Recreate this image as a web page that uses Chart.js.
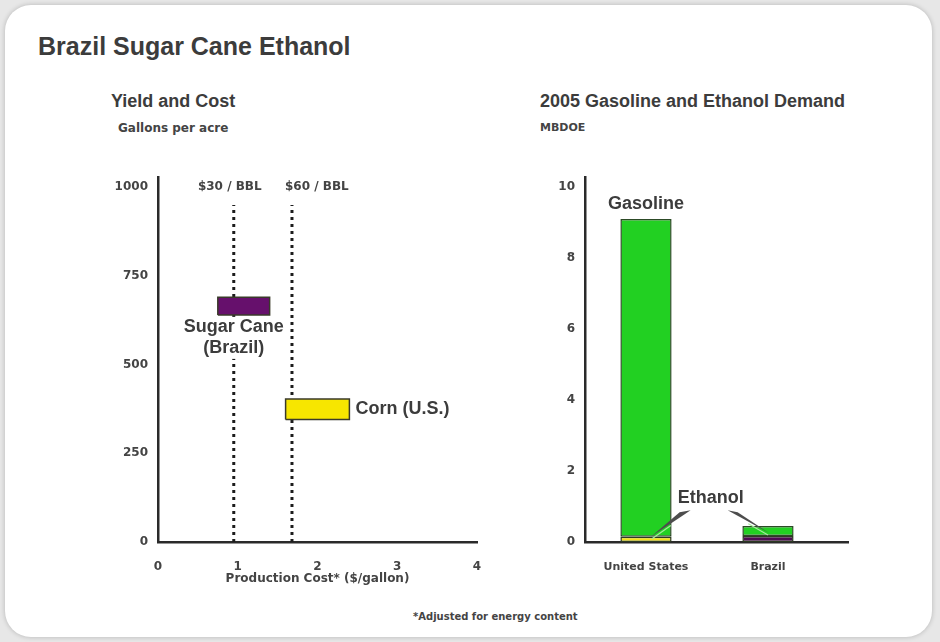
<!DOCTYPE html>
<html>
<head>
<meta charset="utf-8">
<script src="https://cdn.jsdelivr.net/npm/chart.js@4/dist/chart.umd.min.js"></script>
<style>
  html, body { margin: 0; padding: 0; }
  body { width: 940px; height: 642px; background: #e7e7e7; position: relative; overflow: hidden; }
  .card { position: absolute; left: 5px; top: 5px; width: 927px; height: 632px; background: #fff;
          border-radius: 26px; box-shadow: 0 0 5px rgba(0,0,0,0.22); }
  .txt { position: absolute; white-space: nowrap; color: #3c3c3c; font-weight: bold; }
  .big { font-family: "Liberation Sans", Arial, sans-serif; }
  .small { font-family: "DejaVu Sans", Verdana, sans-serif; color: #444; }
  canvas { position: absolute; }
</style>
</head>
<body>
<div class="card"></div>
<div class="txt big" style="left:38px; top:34px; font-size:25px; line-height:25px;">Brazil Sugar Cane Ethanol</div>
<div class="txt big" style="left:111px; top:92px; font-size:18px; line-height:18px;">Yield and Cost</div>
<div class="txt small" style="left:118px; top:122px; font-size:12px; line-height:12px;">Gallons per acre</div>
<div class="txt big" style="left:540px; top:92px; font-size:18px; line-height:18px;">2005 Gasoline and Ethanol Demand</div>
<div class="txt small" style="left:540px; top:122px; font-size:11px; line-height:12px;">MBDOE</div>
<div class="txt small" style="left:413px; top:612px; font-size:10px; line-height:10px;">*Adjusted for energy content</div>

<canvas id="yieldChart" width="400" height="440" style="left:100px; top:160px;"></canvas>
<canvas id="demandChart" width="340" height="440" style="left:530px; top:160px;"></canvas>

<script>
// ---- Yield and cost ----
const crops = ['Sugar Cane', 'Corn (U.S.)'];
const cropSubLabels = ['(Brazil)', ''];
const costLow = [0.75, 1.6];       // $/gallon
const costHigh = [1.4, 2.4];
const yieldLow = [640, 345];       // gallons per acre
const yieldHigh = [690, 403];
const cropColors = ['#66106c', '#f7e600'];
const yieldTicks = [0, 250, 500, 750, 1000];
const costTicks = [0, 1, 2, 3, 4];

// oil price break-even costs
const oilPrices = ['$30 / BBL', '$60 / BBL'];
const breakEvenCost = [0.95, 1.68];
const breakEvenTop = 950;

// ---- 2005 demand (MBDOE) ----
const countries = ['United States', 'Brazil'];
const ethanolDemand = [0.15, 0.17];
const gasolineDemand = [8.95, 0.28];
const ethanolColors = ['#f4e41c', '#4e0b52'];
const demandTicks = [0, 2, 4, 6, 8, 10];

const smallFont = { family: 'DejaVu Sans', weight: 'bold', size: 12 };
const labelFont = '"Liberation Sans", Arial, sans-serif';
const textColor = '#3c3c3c';
const axisColor = '#2a2a2a';

Chart.defaults.animation = false;

// rectangles for the yield / cost ranges
const rectSets = crops.map((name, i) => ({
  label: name,
  data: [
    { x: costLow[i], y: yieldLow[i] },
    { x: costHigh[i], y: yieldLow[i] },
    { x: costHigh[i], y: yieldHigh[i] },
    { x: costLow[i], y: yieldHigh[i] },
    { x: costLow[i], y: yieldLow[i] }
  ],
  fill: 'shape',
  backgroundColor: cropColors[i],
  borderColor: '#3a3a2a',
  borderWidth: 1.5,
  pointRadius: 0,
  tension: 0,
  order: 1
}));

const dottedSets = oilPrices.map((name, i) => ({
  label: name,
  data: [{ x: breakEvenCost[i], y: 0 }, { x: breakEvenCost[i], y: breakEvenTop }],
  borderColor: '#1c1c1c',
  borderWidth: 3,
  borderDash: [3, 4],
  borderCapStyle: 'butt',
  pointRadius: 0,
  fill: false,
  order: 2
}));

const yieldLabels = {
  id: 'yieldLabels',
  afterDatasetsDraw(chart) {
    const { ctx, scales: { x, y } } = chart;
    ctx.save();
    // price labels above the break-even lines
    ctx.font = 'bold 12px "DejaVu Sans"';
    ctx.textBaseline = 'middle';
    ctx.fillStyle = '#444';
    ctx.textAlign = 'center';
    ctx.fillText(oilPrices[0], x.getPixelForValue(breakEvenCost[0]) - 4, y.getPixelForValue(1000));
    ctx.textAlign = 'left';
    ctx.fillText(oilPrices[1], x.getPixelForValue(breakEvenCost[1]) - 7, y.getPixelForValue(1000));

    ctx.font = 'bold 18px ' + labelFont;
    // sugar cane label, under its rectangle, on a white patch
    const cx = x.getPixelForValue(breakEvenCost[0]);
    const by = y.getPixelForValue(yieldLow[0]);
    const w = Math.max(ctx.measureText(crops[0]).width, ctx.measureText(cropSubLabels[0]).width);
    ctx.fillStyle = '#fff';
    ctx.fillRect(cx - w / 2 - 1, by + 2, w + 2, 42);
    ctx.fillStyle = textColor;
    ctx.textAlign = 'center';
    ctx.fillText(crops[0], cx, by + 12);
    ctx.fillText(cropSubLabels[0], cx, by + 33);
    // corn label, right of its rectangle
    ctx.textAlign = 'left';
    ctx.fillText(crops[1], x.getPixelForValue(costHigh[1]) + 6,
      (y.getPixelForValue(yieldLow[1]) + y.getPixelForValue(yieldHigh[1])) / 2);
    ctx.restore();
  }
};

new Chart(document.getElementById('yieldChart'), {
  type: 'line',
  data: { datasets: [...rectSets, ...dottedSets] },
  options: {
    responsive: false,
    layout: { padding: { top: 15, right: 23, bottom: 0, left: 0 } },
    plugins: { legend: { display: false }, tooltip: { enabled: false } },
    scales: {
      x: {
        type: 'linear', min: 0, max: 4,
        afterBuildTicks(s) { s.ticks = costTicks.map(v => ({ value: v })); },
        afterFit(s) { s.height = 58; },
        grid: { display: false, drawTicks: false },
        border: { display: true, color: axisColor, width: 2.5 },
        ticks: { padding: 18, color: '#444', font: smallFont, callback: v => String(v) },
        title: { display: true, text: 'Production Cost* ($/gallon)', color: '#444',
                 font: smallFont, padding: { top: 0, bottom: 14 } }
      },
      y: {
        type: 'linear', min: 0, max: 1028,
        afterBuildTicks(s) { s.ticks = yieldTicks.map(v => ({ value: v })); },
        afterFit(s) { s.width = 58; },
        grid: { display: false, drawTicks: false },
        border: { display: true, color: axisColor, width: 2.5 },
        ticks: { padding: 10, color: '#444', font: smallFont, callback: v => String(v) }
      }
    }
  },
  plugins: [yieldLabels]
});

// ---- demand chart ----
const demandLabels = {
  id: 'demandLabels',
  afterDatasetsDraw(chart) {
    const { ctx, scales: { x, y } } = chart;
    ctx.save();
    ctx.font = 'bold 18px ' + labelFont;
    ctx.fillStyle = textColor;
    ctx.textAlign = 'center';
    ctx.textBaseline = 'middle';
    ctx.fillText('Gasoline', x.getPixelForValue(0),
      y.getPixelForValue(ethanolDemand[0] + gasolineDemand[0]) - 15);

    // ethanol callout between the bars
    const lx = x.getPixelForValue(0.53);
    const ly = y.getPixelForValue(1.23);
    ctx.fillText('Ethanol', lx, ly);

    const tips = [
      [x.getPixelForValue(0) + 5, y.getPixelForValue(ethanolDemand[0])],
      [x.getPixelForValue(1) + 1, y.getPixelForValue(ethanolDemand[1]) - 3]
    ];
    const bases = [
      [[lx - 31, ly + 14], [lx - 20, ly + 12]],
      [[lx + 17, ly + 12], [lx + 27, ly + 14]]
    ];
    bases.forEach((b, i) => {
      ctx.beginPath();
      ctx.moveTo(b[0][0], b[0][1]);
      ctx.lineTo(b[1][0], b[1][1]);
      ctx.lineTo(tips[i][0], tips[i][1]);
      ctx.closePath();
      ctx.fillStyle = '#4d4d4d';
      ctx.fill();
      ctx.beginPath();
      const edge = i === 0 ? b[1] : b[0];
      ctx.moveTo(tips[i][0] + (i === 0 ? 1 : -1), tips[i][1] + 2);
      ctx.lineTo((tips[i][0] + edge[0]) / 2, (tips[i][1] + edge[1]) / 2 + 2);
      ctx.strokeStyle = '#a6ea9e';
      ctx.lineWidth = 1.2;
      ctx.stroke();
    });
    ctx.restore();
  }
};

new Chart(document.getElementById('demandChart'), {
  type: 'bar',
  data: {
    datasets: [
      {
        label: 'Ethanol',
        data: countries.map((c, i) => ({ x: i, y: ethanolDemand[i] })),
        backgroundColor: ethanolColors,
        borderColor: '#2c3a22',
        borderWidth: 1.5,
        borderSkipped: false,
        barPercentage: 0.42,
        categoryPercentage: 1
      },
      {
        label: 'Gasoline',
        data: countries.map((c, i) => ({ x: i, y: gasolineDemand[i] })),
        backgroundColor: '#22d022',
        borderColor: '#2c4a26',
        borderWidth: 1.5,
        borderSkipped: false,
        barPercentage: 0.42,
        categoryPercentage: 1
      }
    ]
  },
  options: {
    responsive: false,
    layout: { padding: { top: 15, right: 22, bottom: 0, left: 0 } },
    plugins: { legend: { display: false }, tooltip: { enabled: false } },
    scales: {
      x: {
        type: 'linear', min: -0.5, max: 1.656, stacked: true, offset: false,
        afterBuildTicks(s) { s.ticks = countries.map((c, i) => ({ value: i })); },
        afterFit(s) { s.height = 58; },
        grid: { display: false, drawTicks: false },
        border: { display: true, color: axisColor, width: 2.5 },
        ticks: { padding: 19, color: '#444', font: { family: 'DejaVu Sans', weight: 'bold', size: 11 },
                 callback: v => countries[v] }
      },
      y: {
        type: 'linear', min: 0, max: 10.28, stacked: true,
        afterBuildTicks(s) { s.ticks = demandTicks.map(v => ({ value: v })); },
        afterFit(s) { s.width = 55; },
        grid: { display: false, drawTicks: false },
        border: { display: true, color: axisColor, width: 2.5 },
        ticks: { padding: 10, color: '#444', font: smallFont, callback: v => String(v) }
      }
    }
  },
  plugins: [demandLabels]
});
</script>
</body>
</html>
